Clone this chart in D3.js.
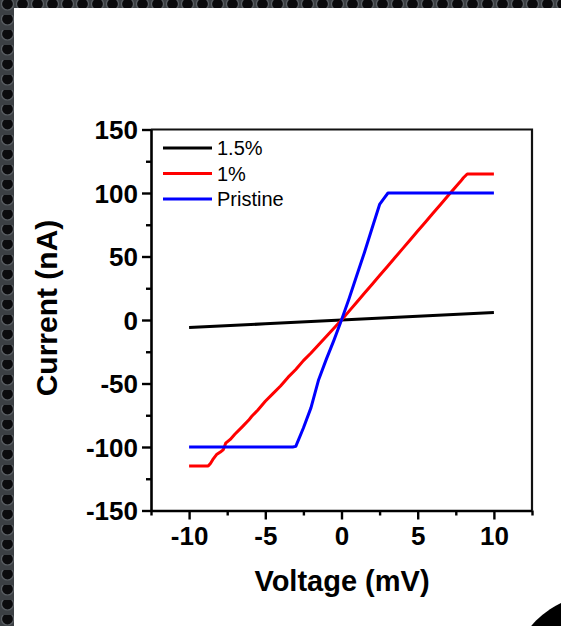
<!DOCTYPE html>
<html>
<head>
<meta charset="utf-8">
<script src="https://cdn.jsdelivr.net/npm/d3@7"></script>
<style>
  html, body { margin: 0; padding: 0; background: #222; }
  svg { display: block; }
  .tick-label { font-family: "Liberation Sans", Arial, sans-serif; font-weight: bold; font-size: 26px; fill: #000; }
  .axis-title { font-family: "Liberation Sans", Arial, sans-serif; font-weight: bold; font-size: 29px; fill: #000; }
  .legend-text { font-family: "Liberation Sans", Arial, sans-serif; font-size: 20px; fill: #000; }
</style>
</head>
<body>
<div id="chart"></div>
<script>
(function() {
    'use strict';

    // data (voltage mV -> current nA)
    var seriesNames = ['1.5%', '1%', 'Pristine'];
    var seriesColors = ['#000000', '#ff0000', '#0000ff'];

    var v15 = [-10, -5, 0, 5, 10];
    var i15 = [-6, -3, 0, 3, 6];

    var v1 = [-10, -9.5, -9, -8.75, -8.6, -8.45, -8.2, -7.95, -7.75, -7.6, -7.3, -7.0, -6.5, -6.1, -5.9, -5.5, -5.0,
              -4.5, -4.0, -3.5, -3.0, -2.5, -2.0, -1.5, -1.0, -0.5, 0, 0.5, 1.0, 1.5, 2.0, 2.5, 3.0,
              3.5, 4.0, 4.5, 5.0, 5.5, 6.0, 6.5, 7.0, 7.5, 7.8, 8.0, 8.25, 9.0, 10];
    var i1 = [-115, -115, -115, -115, -113, -110, -106, -104, -102, -97, -94, -90, -84, -79, -76, -71, -64,
              -58, -52, -45, -39, -32, -26, -19.5, -13, -6.5, 0, 7, 14, 21, 28, 35, 42,
              49, 56, 63, 70, 77, 84, 91, 98, 105, 109, 112, 115, 115, 115];

    var vP = [-10, -8, -6, -4, -3.2, -3.0, -2.5, -2.0, -1.5, -1.0, -0.5, 0, 0.5, 1.0, 1.5, 2.0, 2.5, 2.8, 3.05, 5, 7.5, 10];
    var iP = [-100, -100, -100, -100, -100, -99.5, -85, -69, -47, -31, -16, 0, 17, 35, 53, 72, 91, 96, 100, 100, 100, 100];

    var xTicks = [-12.5, -10, -7.5, -5, -2.5, 0, 2.5, 5, 7.5, 10, 12.5];
    var yTicks = [-150, -125, -100, -75, -50, -25, 0, 25, 50, 75, 100, 125, 150];
    var xTickLabels = ['-10', '-5', '0', '5', '10'];
    var yTickLabels = ['-150', '-100', '-50', '0', '50', '100', '150'];

    var fullWidth = 561, fullHeight = 626;

    var chartAreaSz = { left: 151, top: 129.5, right: 532, bottom: 510.5 };

    var svg = d3.select('#chart')
    .append('svg')
      .attr('width', fullWidth)
      .attr('height', fullHeight);

    // dark perforated backdrop around the white sheet
    var defs = svg.append('defs');
    var pat = defs.append('pattern')
      .attr('id', 'holes')
      .attr('width', 15)
      .attr('height', 15)
      .attr('patternUnits', 'userSpaceOnUse');
    pat.append('rect').attr('width', 15).attr('height', 15).attr('fill', '#3c4044');
    pat.append('circle').attr('cx', 7.5).attr('cy', 4).attr('r', 6)
      .attr('fill', '#0b0b0d').attr('stroke', '#5a5f64').attr('stroke-width', 1.2);

    svg.append('rect')
      .attr('width', fullWidth).attr('height', fullHeight)
      .attr('fill', 'url(#holes)');

    svg.append('rect')
      .attr('x', 14).attr('y', 8)
      .attr('width', fullWidth - 14).attr('height', fullHeight - 8)
      .attr('fill', '#ffffff');

    svg.append('circle')
      .attr('cx', 600).attr('cy', 684).attr('r', 90)
      .attr('fill', '#000');

    var x = d3.scaleLinear()
      .domain([-12.5, 12.5])
      .range([chartAreaSz.left, chartAreaSz.right]);

    var y = d3.scaleLinear()
      .domain([-150, 150])
      .range([chartAreaSz.bottom, chartAreaSz.top]);

    var chart = svg.append('g').attr('class', 'chart');

    // frame top/right
    chart.append('path')
      .attr('d', 'M' + x(-12.5) + ',' + y(150) + 'H' + x(12.5) + 'V' + y(-150))
      .attr('fill', 'none')
      .attr('stroke', '#111')
      .attr('stroke-width', 2.2);

    var isMajorX = function(d) { return d % 5 === 0; };
    var isMajorY = function(d) { return d % 50 === 0; };

    var xAxis = d3.axisBottom(x)
      .tickValues(xTicks)
      .tickSizeOuter(0)
      .tickFormat(function(d) { return xTickLabels.indexOf(String(d)) >= 0 ? String(d) : ''; });

    var gx = chart.append('g')
      .attr('id', 'xAxis')
      .attr('transform', 'translate(0,' + chartAreaSz.bottom + ')')
    .call(xAxis);

    gx.select('.domain').attr('stroke', '#000').attr('stroke-width', 2.6);
    gx.selectAll('.tick line')
      .attr('stroke', '#000')
      .attr('stroke-width', 2.4)
      .attr('y2', function(d) { return isMajorX(d) ? 9 : 5; });
    gx.selectAll('.tick text')
      .attr('class', 'tick-label')
      .attr('font-family', null).attr('font-size', null)
      .attr('y', 16)
      .attr('dy', '0.71em');

    var yAxis = d3.axisLeft(y)
      .tickValues(yTicks)
      .tickSizeOuter(0)
      .tickFormat(function(d) { return yTickLabels.indexOf(String(d)) >= 0 ? String(d) : ''; });

    var gy = chart.append('g')
      .attr('id', 'yAxis')
      .attr('transform', 'translate(' + chartAreaSz.left + ',0)')
    .call(yAxis);

    gy.select('.domain').attr('stroke', '#000').attr('stroke-width', 2.6);
    gy.selectAll('.tick line')
      .attr('stroke', '#000')
      .attr('stroke-width', 2.4)
      .attr('x2', function(d) { return isMajorY(d) ? -9 : -5; });
    gy.selectAll('.tick text')
      .attr('class', 'tick-label')
      .attr('font-family', null).attr('font-size', null)
      .attr('x', -13)
      .attr('dy', '0.36em');

    // axis titles
    svg.append('text')
      .attr('class', 'axis-title')
      .attr('x', 342)
      .attr('y', 591)
      .attr('text-anchor', 'middle')
      .text('Voltage (mV)');

    svg.append('text')
      .attr('class', 'axis-title')
      .style('font-size', '30px')
      .attr('transform', 'translate(57,308) rotate(-90)')
      .attr('text-anchor', 'middle')
      .text('Current (nA)');

    var series = [
      { id: seriesNames[0], color: seriesColors[0], v: v15, i: i15 },
      { id: seriesNames[1], color: seriesColors[1], v: v1, i: i1 },
      { id: seriesNames[2], color: seriesColors[2], v: vP, i: iP }
    ];

    var lineGen = d3.line()
      .curve(d3.curveLinear)
      .x(function(d) { return x(d[0]); })
      .y(function(d) { return y(d[1]); });

    chart.selectAll('.iv-line')
    .data(series)
    .enter().append('path')
      .attr('class', 'iv-line')
      .attr('d', function(d) { return lineGen(d3.zip(d.v, d.i)); })
      .attr('stroke', function(d) { return d.color; })
      .attr('stroke-width', 3)
      .attr('stroke-linejoin', 'round')
      .attr('fill', 'none');

    // legend
    var legend = svg.append('g')
      .attr('transform', 'translate(163,148)');

    var item = legend.selectAll('.legend-item')
    .data(series)
    .enter().append('g')
      .attr('class', 'legend-item')
      .attr('transform', function(d, k) { return 'translate(0,' + (k * 25.5) + ')'; });

    item.append('line')
      .attr('x1', 0).attr('x2', 49)
      .attr('stroke', function(d) { return d.color; })
      .attr('stroke-width', 3);

    item.append('text')
      .attr('class', 'legend-text')
      .attr('x', 54)
      .attr('dy', '0.36em')
      .text(function(d) { return d.id; });

})();
</script>
</body>
</html>
